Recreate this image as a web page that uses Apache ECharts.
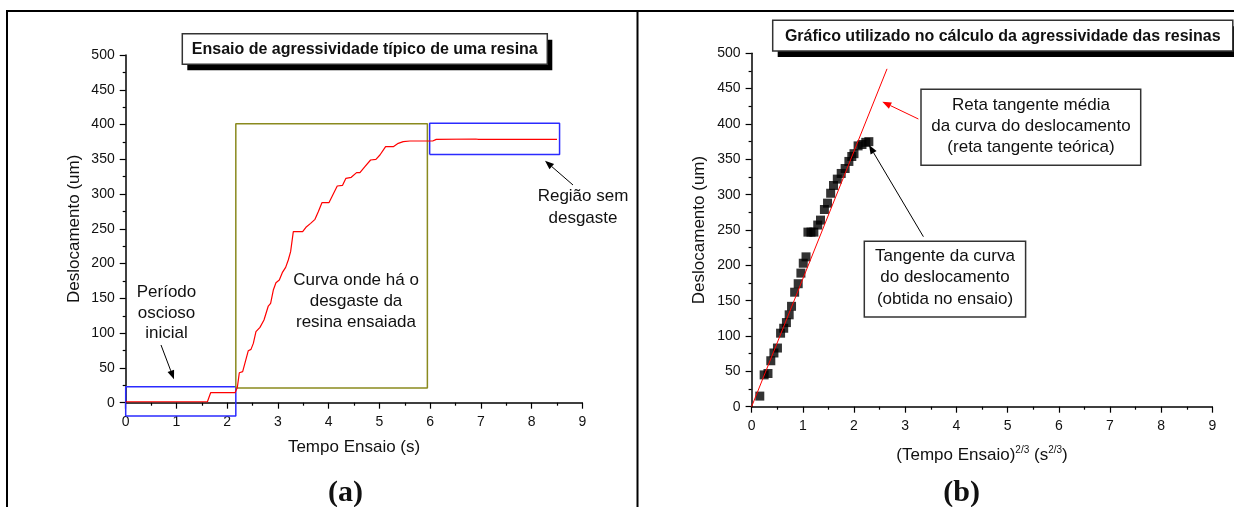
<!DOCTYPE html>
<html><head><meta charset="utf-8">
<script src="https://cdn.jsdelivr.net/npm/echarts@6/dist/echarts.min.js"></script>
<style>html,body{margin:0;padding:0;background:#fff}#c{width:1234px;height:507px}</style>
</head><body><div id="c"></div>
<script>
// ---------- Panel (a): typical wear test curve ----------
const curveTime = [0, 1.61, 1.674, 2.154, 2.173, 2.2, 2.239, 2.305, 2.416, 2.469, 2.515, 2.567, 2.646, 2.725, 2.81, 2.856, 2.909, 2.961, 3.027, 3.086, 3.152, 3.204, 3.25, 3.303, 3.487, 3.552, 3.644, 3.73, 3.795, 3.867, 4.005, 4.071, 4.169, 4.274, 4.34, 4.445, 4.55, 4.616, 4.714, 4.826, 4.931, 5.01, 5.122, 5.273, 5.371, 5.469, 5.601, 5.962, 6.05, 6.12, 6.9, 6.95, 8.5];
const curveDispl = [1.4, 1.4, 14.4, 14.4, 14.4, 22, 43.1, 44.6, 74.8, 76.7, 85.3, 102.1, 108.3, 118.9, 139, 142.9, 162, 172.6, 176.4, 187, 194.6, 205.2, 217.2, 245.9, 245.9, 252.2, 257.9, 263.7, 274.7, 287.6, 287.6, 297.2, 311.6, 312.6, 322.6, 324.1, 330.8, 330.8, 339.4, 349, 350, 356.2, 368.2, 368.2, 373, 375.4, 376.3, 376.3, 376.3, 378.6, 379.2, 378.6, 378.6];
// highlighted regions (data units): [xmin, xmax], [ymin, ymax]
const idleBoxX = [0, 2.17], idleBoxY = [-19, 23];
const wearBoxX = [2.17, 5.945], wearBoxY = [21, 401];
const flatBoxX = [5.99, 8.55], flatBoxY = [357, 402];

// ---------- Panel (b): displacement vs time^(2/3) ----------
const scatterX = [0.16, 0.245, 0.32, 0.375, 0.436, 0.505, 0.566, 0.627, 0.68, 0.734, 0.78, 0.841, 0.91, 0.963, 1.009, 1.063, 1.1, 1.16, 1.216, 1.292, 1.346, 1.422, 1.483, 1.544, 1.6, 1.674, 1.75, 1.827, 1.9, 1.957, 2.0, 2.08, 2.156, 2.23, 2.29];
const scatterY = [15, 45, 47, 65, 76, 83, 104, 111, 119, 130, 142, 162, 174, 189, 203, 212, 247, 247, 247, 257, 264, 279, 288, 302, 313, 322, 330, 337, 347, 354, 358, 369, 371, 374, 375];
const tangentX = [0, 2.645];
const tangentY = [0, 478];

const xTickMin = 0, xTickMax = 9, xTickStep = 1;
const yTickMin = 0, yTickMax = 500, yTickStep = 50;

const FONT = '"Liberation Sans", Arial, sans-serif';
const zip = (a, b) => a.map((v, i) => [v, b[i]]);
const rect = (bx, by) => [[bx[0], by[0]], [bx[1], by[0]], [bx[1], by[1]], [bx[0], by[1]], [bx[0], by[0]]];

function makeX(gi, name, gap) {
  return {
    gridIndex: gi, type: 'value', min: xTickMin, max: xTickMax, interval: xTickStep,
    splitLine: { show: false },
    axisLine: { onZero: false, lineStyle: { color: '#000', width: 1.5 } },
    axisTick: { show: true, inside: false, length: 6, lineStyle: { color: '#000', width: 1.2 } },
    minorTick: { show: true, splitNumber: 2, length: 3, lineStyle: { color: '#000', width: 1.2 } },
    axisLabel: { color: '#111', fontSize: 14, fontFamily: FONT, margin: 12 },
    name: name, nameLocation: 'middle', nameGap: gap,
    nameTextStyle: { color: '#111', fontSize: 17, fontFamily: FONT,
      rich: { n: { fontSize: 17, fontFamily: FONT, color: '#111', lineHeight: 20 },
              s: { fontSize: 10, fontFamily: FONT, color: '#111', lineHeight: 10, verticalAlign: 'top' } } }
  };
}
function makeY(gi, gap) {
  return {
    gridIndex: gi, type: 'value', min: yTickMin, max: yTickMax, interval: yTickStep,
    splitLine: { show: false },
    axisLine: { show: true, onZero: false, lineStyle: { color: '#000', width: 1.5 } },
    axisTick: { show: true, inside: false, length: 6, lineStyle: { color: '#000', width: 1.2 } },
    minorTick: { show: true, splitNumber: 2, length: 3, lineStyle: { color: '#000', width: 1.2 } },
    axisLabel: { color: '#111', fontSize: 14, fontFamily: FONT, margin: 11 },
    name: 'Deslocamento (um)', nameLocation: 'middle', nameGap: gap,
    nameTextStyle: { color: '#111', fontSize: 17, fontFamily: FONT }
  };
}
function boxSeries(bx, by, color) {
  return { type: 'line', xAxisIndex: 0, yAxisIndex: 0, data: rect(bx, by), showSymbol: false,
    clip: false, silent: true, lineStyle: { color: color, width: 1.5 }, z: 2, animation: false };
}
function arrow(x1, y1, x2, y2, color) {
  const a = Math.atan2(y2 - y1, x2 - x1), L = 9, W = 3.5;
  const bx = x2 - L * Math.cos(a), by = y2 - L * Math.sin(a);
  const px = -Math.sin(a) * W, py = Math.cos(a) * W;
  return [
    { type: 'line', shape: { x1: x1, y1: y1, x2: bx, y2: by }, style: { stroke: color, lineWidth: 1 }, z: 50 },
    { type: 'polygon', shape: { points: [[x2, y2], [bx + px, by + py], [bx - px, by - py]] }, style: { fill: color }, z: 50 }
  ];
}
function txt(x, y, text, size, weight, lh, family) {
  return { type: 'text', x: x, y: y, z: 60,
    style: { text: text, fill: '#111', font: (weight || 'normal') + ' ' + size + 'px ' + (family || FONT),
      textAlign: 'center', textVerticalAlign: 'middle', lineHeight: lh || size } };
}
function titleBox(x, y, w, h, text) {
  return [
    { type: 'rect', shape: { x: x + 5, y: y + 6, width: w, height: h }, style: { fill: '#000' }, z: 40 },
    { type: 'rect', shape: { x: x, y: y, width: w, height: h }, style: { fill: '#fff', stroke: '#333', lineWidth: 1.5 }, z: 41 },
    txt(x + w / 2, y + h / 2 + 0.5, text, 16, 'bold')
  ];
}
function noteBox(x, y, w, h) {
  return { type: 'rect', shape: { x: x, y: y, width: w, height: h }, style: { fill: 'transparent', stroke: '#333', lineWidth: 1.5 }, z: 45 };
}

const graphic = [].concat(
  [
    { type: 'line', shape: { x1: 6, y1: 11, x2: 1234, y2: 11 }, style: { stroke: '#000', lineWidth: 2 }, z: 30 },
    { type: 'line', shape: { x1: 7, y1: 10, x2: 7, y2: 507 }, style: { stroke: '#000', lineWidth: 2 }, z: 30 },
    { type: 'line', shape: { x1: 637.5, y1: 10, x2: 637.5, y2: 507 }, style: { stroke: '#000', lineWidth: 2 }, z: 30 }
  ],
  titleBox(182.3, 33.7, 365, 30.6, 'Ensaio de agressividade típico de uma resina'),
  titleBox(772.7, 20.3, 460.1, 30.7, 'Gráfico utilizado no cálculo da agressividade das resinas'),
  [
    txt(166.5, 313, 'Período\noscioso\ninicial', 17, 'normal', 20.5),
    txt(356, 301.7, 'Curva onde há o\ndesgaste da\nresina ensaiada', 17, 'normal', 21),
    txt(583, 207.5, 'Região sem\ndesgaste', 17, 'normal', 21.5),
    noteBox(921, 89.3, 219.7, 76),
    txt(1031, 126, 'Reta tangente média\nda curva do deslocamento\n(reta tangente teórica)', 17, 'normal', 21),
    noteBox(864.3, 241.3, 161.3, 75.7),
    txt(945, 277.8, 'Tangente da curva\ndo deslocamento\n(obtida no ensaio)', 17, 'normal', 21.2),
    txt(345.4, 493, '(a)', 30, 'bold', 30, '"Liberation Serif", "Times New Roman", serif'),
    txt(961.6, 493, '(b)', 30, 'bold', 30, '"Liberation Serif", "Times New Roman", serif')
  ],
  arrow(161, 345, 174, 379.3, '#000'),
  arrow(573, 185, 545, 160.7, '#000'),
  arrow(918.4, 119, 882.3, 101.7, '#ff0000'),
  arrow(923.4, 236.7, 869, 145, '#000')
);

const chart = echarts.init(document.getElementById('c'), null, { renderer: 'canvas' });
chart.setOption({
  animation: false,
  backgroundColor: '#fff',
  textStyle: { fontFamily: FONT },
  grid: [
    { left: 125.7, top: 55, width: 456.7, height: 347.7, containLabel: false },
    { left: 751.6, top: 53.3, width: 460.8, height: 353.4, containLabel: false }
  ],
  xAxis: [
    makeX(0, 'Tempo Ensaio (s)', 36),
    makeX(1, '{n|(Tempo Ensaio)}{s|2/3}{n| (s}{s|2/3}{n|)}', 39)
  ],
  yAxis: [makeY(0, 43), makeY(1, 44)],
  series: [
    boxSeries(idleBoxX, idleBoxY, '#2b2bff'),
    boxSeries(wearBoxX, wearBoxY, '#8a8a1e'),
    boxSeries(flatBoxX, flatBoxY, '#2b2bff'),
    { type: 'line', xAxisIndex: 0, yAxisIndex: 0, data: zip(curveTime, curveDispl), showSymbol: false,
      lineStyle: { color: '#ff0000', width: 1.2 }, z: 5, silent: true },
    { type: 'scatter', xAxisIndex: 1, yAxisIndex: 1, data: zip(scatterX, scatterY), symbol: 'rect',
      symbolSize: 9, itemStyle: { color: '#000' }, z: 5, silent: true },
    { type: 'line', xAxisIndex: 1, yAxisIndex: 1, data: zip(tangentX, tangentY), showSymbol: false,
      clip: false, lineStyle: { color: '#ff0000', width: 1 }, z: 6, silent: true }
  ],
  graphic: graphic
});
</script></body></html>
